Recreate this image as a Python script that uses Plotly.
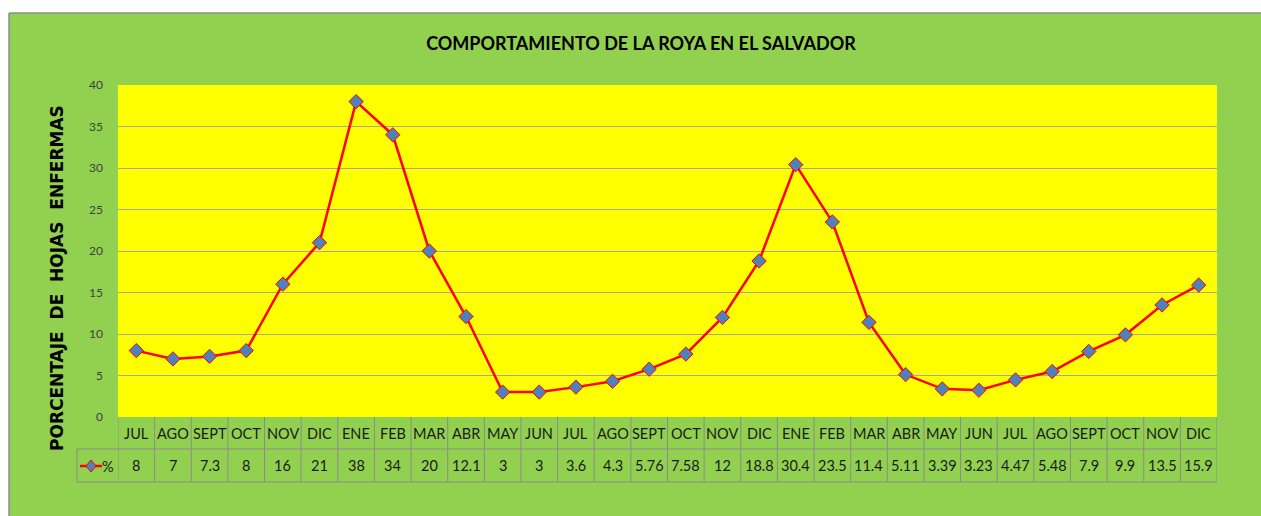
import plotly.graph_objects as go

# data
meses = ["JUL", "AGO", "SEPT", "OCT", "NOV", "DIC", "ENE", "FEB", "MAR", "ABR", "MAY", "JUN",
         "JUL", "AGO", "SEPT", "OCT", "NOV", "DIC", "ENE", "FEB", "MAR", "ABR", "MAY", "JUN",
         "JUL", "AGO", "SEPT", "OCT", "NOV", "DIC"]
porcentaje = [8, 7, 7.3, 8, 16, 21, 38, 34, 20, 12.1, 3, 3,
              3.6, 4.3, 5.76, 7.58, 12, 18.8, 30.4, 23.5, 11.4, 5.11, 3.39, 3.23,
              4.47, 5.48, 7.9, 9.9, 13.5, 15.9]
etiquetas = ["8", "7", "7.3", "8", "16", "21", "38", "34", "20", "12.1", "3", "3",
             "3.6", "4.3", "5.76", "7.58", "12", "18.8", "30.4", "23.5", "11.4", "5.11", "3.39", "3.23",
             "4.47", "5.48", "7.9", "9.9", "13.5", "15.9"]

W, H = 1261, 516
L, R, T, B = 118, 44, 85, 99
ph = H - T - B
pw = W - L - R

def py(y):  # pixel row -> paper y
    return (H - B - y) / ph

def px(x):  # pixel col -> paper x
    return (x - L) / pw

xs = list(range(len(meses)))
fnt = "Lato, Roboto, sans-serif"
txt = "#1a1a1a"

fig = go.Figure()
fig.add_trace(go.Scatter(
    x=xs, y=porcentaje, mode="lines+markers", name="%",
    line=dict(color="#FF0000", width=2.5),
    marker=dict(symbol="diamond", size=11, color="#4F81BD", line=dict(color="#FF0000", width=1)),
    cliponaxis=False, showlegend=False,
))

shapes = []
# white page around the green chart box
shapes.append(dict(type="rect", xref="paper", yref="paper", x0=px(0), x1=px(W), y0=py(13), y1=py(0),
                   fillcolor="white", line_width=0, layer="below"))
shapes.append(dict(type="rect", xref="paper", yref="paper", x0=px(0), x1=px(9), y0=py(H), y1=py(0),
                   fillcolor="white", line_width=0, layer="below"))
shapes.append(dict(type="line", xref="paper", yref="paper", x0=px(9), x1=px(W), y0=py(13), y1=py(13),
                   line=dict(color="#8C8C8C", width=1.5)))
shapes.append(dict(type="line", xref="paper", yref="paper", x0=px(9), x1=px(9), y0=py(13), y1=py(H),
                   line=dict(color="#8C8C8C", width=1.5)))

# data table under the plot
row1, row2 = py(449), py(482)
tcol = "#8C8C8C"
for i in range(len(meses) + 1):
    shapes.append(dict(type="line", xref="x", yref="paper", x0=i - 0.5, x1=i - 0.5, y0=row2, y1=0,
                       line=dict(color=tcol, width=1)))
shapes.append(dict(type="line", xref="paper", yref="paper", x0=px(77), x1=1, y0=row1, y1=row1,
                   line=dict(color=tcol, width=1)))
shapes.append(dict(type="line", xref="paper", yref="paper", x0=px(77), x1=1, y0=row2, y1=row2,
                   line=dict(color=tcol, width=1)))
shapes.append(dict(type="line", xref="paper", yref="paper", x0=px(77), x1=px(77), y0=row2, y1=row1,
                   line=dict(color=tcol, width=1)))
# legend key in the table
shapes.append(dict(type="line", xref="paper", yref="paper", x0=px(80), x1=px(102), y0=py(466), y1=py(466),
                   line=dict(color="#FF0000", width=2.5)))
shapes.append(dict(type="path", xref="paper", yref="paper", xsizemode="pixel", ysizemode="pixel",
                   xanchor=px(91), yanchor=py(466), path="M -5 0 L 0 6 L 5 0 L 0 -6 Z",
                   fillcolor="#4F81BD", line=dict(color="#FF0000", width=1)))

annotations = []
for i, (m, v) in enumerate(zip(meses, etiquetas)):
    annotations.append(dict(x=i, y=(0 + row1) / 2, xref="x", yref="paper", text=m, showarrow=False,
                            xanchor="center", yanchor="middle",
                            font=dict(family=fnt, size=14.5, color=txt)))
    annotations.append(dict(x=i, y=(row1 + row2) / 2, xref="x", yref="paper", text=v, showarrow=False,
                            xanchor="center", yanchor="middle",
                            font=dict(family=fnt, size=14.5, color=txt)))
annotations.append(dict(x=px(108), y=py(466), xref="paper", yref="paper", text="%", showarrow=False,
                        xanchor="center", yanchor="middle",
                        font=dict(family=fnt, size=14.5, color=txt)))
annotations.append(dict(x=px(57), y=py(278), xref="paper", yref="paper", text="PORCENTAJE  DE  HOJAS  ENFERMAS",
                        textangle=-90, showarrow=False, xanchor="center", yanchor="middle",
                        font=dict(family="DejaVu Sans", size=17, color="black", weight="bold")))

fig.update_layout(
    width=W, height=H,
    margin=dict(l=L, r=R, t=T, b=B),
    paper_bgcolor="#92D050",
    plot_bgcolor="#FFFF00",
    title=dict(text="<b>COMPORTAMIENTO DE LA ROYA EN EL SALVADOR</b>", x=641 / W, xanchor="center",
               y=1 - 44 / H, yanchor="middle",
               font=dict(family=fnt, size=18, color="black")),
    xaxis=dict(range=[-0.5, len(meses) - 0.5], showticklabels=False, showgrid=False, zeroline=False,
               showline=False, ticks=""),
    yaxis=dict(range=[0, 40], dtick=5, showgrid=True, gridcolor="#A6A6A6", gridwidth=1.2,
               zeroline=False, showline=False, tickfont=dict(family=fnt, size=12, color="#404040"),
               ticklabelstandoff=14),
    shapes=shapes,
    annotations=annotations,
)

fig.write_html("out.html", config={"displayModeBar": False},
               post_script="document.body.style.margin='0';")
